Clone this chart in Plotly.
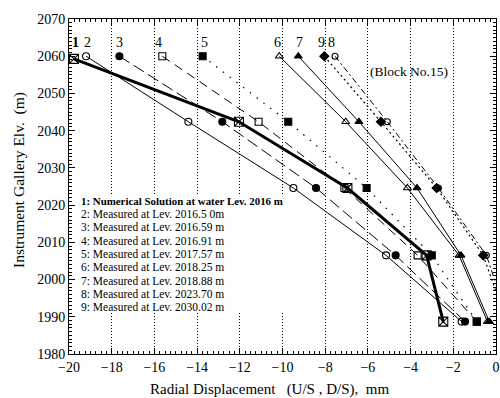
import plotly.graph_objects as go

# ---- data ----
elev = [2060.0, 2042.4, 2024.6, 2006.5, 1988.7]
elev_num = [2059.3, 2042.4, 2024.6, 2006.5, 1988.7]

s1_numerical = [-19.77, -12.04, -6.96, -3.25, -2.47]
s2_2016_50 = [-19.20, -14.41, -9.49, -5.15, -1.61]
s3_2016_59 = [-17.64, -12.82, -8.43, -4.70, -1.45]
s4_2016_91 = [-15.63, -11.12, -7.10, -3.67, -0.90]
s5_2017_57 = [-13.74, -9.73, -6.06, -3.01, -0.90]
s6_2018_25 = [-10.15, -7.04, -4.15, -1.73, -0.40]
s7_2018_88 = [-9.26, -6.42, -3.70, -1.64, -0.31]
s8_2023_70 = [-7.54, -5.09, -2.70, -0.45, 0.60]
s9_2030_02 = [-8.04, -5.39, -2.78, -0.60, 0.50]

legend_lines = [
    "<b>1: Numerical Solution at water Lev. 2016 m</b>",
    "2: Measured at Lev. 2016.5 0m",
    "3: Measured at Lev. 2016.59 m",
    "4: Measured at Lev. 2016.91 m",
    "5: Measured at Lev. 2017.57 m",
    "6: Measured at Lev. 2018.25 m",
    "7: Measured at Lev. 2018.88 m",
    "8: Measured at Lev. 2023.70 m",
    "9: Measured at Lev. 2030.02 m",
]

X_RANGE = [-20, 0]
Y_RANGE = [1980, 2070]
X_TITLE = "Radial Displacement\u00a0\u00a0\u00a0(U/S , D/S),\u00a0\u00a0mm"
Y_TITLE = "Instrument Gallery Elv.\u00a0\u00a0(m)"

FONT = "Liberation Serif, Times New Roman, serif"

series = [
    # (label, x, y, dash, width, marker symbol, marker size, label xshift)
    ("4", s4_2016_91, elev, "9px,6px", 1, "square-open", 7, -4),
    ("5", s5_2017_57, elev, "1.5px,7px", 1.2, "square", 7, 2),
    ("2", s2_2016_50, elev, "solid", 1, "circle-open", 7, 1),
    ("3", s3_2016_59, elev, "12px,5px", 1, "circle", 7, 0),
    ("6", s6_2018_25, elev, "solid", 1, "triangle-up-open", 7, -2),
    ("7", s7_2018_88, elev, "solid", 1, "triangle-up", 7, 1),
    ("8", s8_2023_70, elev, "6px,3px,2px,3px", 1, "circle-open", 6, -4),
    ("9", s9_2030_02, elev, "2px,3px", 1.2, "diamond", 7, -3),
    ("1", s1_numerical, elev_num, "solid", 3, "square-x-open", 9, 2),
]

fig = go.Figure()
for name, xs, ys, dash, w, sym, ms, xs_shift in series:
    fig.add_trace(go.Scatter(
        x=xs, y=ys, mode="lines+markers",
        line=dict(color="black", width=w, dash=dash),
        marker=dict(symbol=sym, size=ms, color="black",
                    line=dict(color="black", width=1.1)),
        showlegend=False, cliponaxis=True, hoverinfo="skip",
    ))
    txt = f"<b>{name}</b>" if name == "1" else name
    fig.add_annotation(x=xs[0], y=2063.8, text=txt, showarrow=False,
                       xshift=xs_shift, font=dict(family=FONT, size=14, color="black"))

# invisible trace on the mirrored (top/right) axes so their ticks are drawn
fig.add_trace(go.Scatter(x=X_RANGE, y=Y_RANGE, xaxis="x2", yaxis="y2",
                         mode="markers", marker=dict(opacity=0),
                         showlegend=False, hoverinfo="skip"))

# white box behind the text legend (hides grid)
fig.add_shape(type="rect", x0=-19.6, x1=-9.7, y0=1991.0, y1=2022.9,
              fillcolor="white", line=dict(width=0), layer="between")

for i, t in enumerate(legend_lines):
    fig.add_annotation(x=-19.52, y=2021.15 - 3.58 * i, text=t, showarrow=False,
                       xanchor="left", yanchor="middle",
                       font=dict(family=FONT, size=(10.9 if i == 0 else 11.5),
                                 color="black"))

fig.add_annotation(x=-4.06, y=2055.9, text="(Block No.15)", showarrow=False,
                   font=dict(family=FONT, size=13.5, color="black"))

# axis titles
fig.add_annotation(xref="paper", yref="paper", x=(269 - 69) / 427, y=-(389 - 354) / 335,
                   text=X_TITLE, showarrow=False, xanchor="center", yanchor="middle",
                   font=dict(family=FONT, size=15, color="black"))
fig.add_annotation(xref="paper", yref="paper", x=-(69 - 19) / 427, y=(354 - 180) / 335,
                   text=Y_TITLE, showarrow=False, xanchor="center", yanchor="middle",
                   textangle=-90, font=dict(family=FONT, size=15.5, color="black"))

tick_common = dict(showline=True, linecolor="black", linewidth=1,
                   ticks="inside", ticklen=6, tickcolor="black",
                   zeroline=False, automargin=False)

fig.update_layout(
    width=500, height=398,
    margin=dict(l=69, r=4, t=19, b=44, autoexpand=False),
    paper_bgcolor="white", plot_bgcolor="white",
    font=dict(family=FONT, size=14, color="black"),
    xaxis=dict(
        range=X_RANGE, dtick=2, tick0=0, mirror=True,
        minor=dict(dtick=0.25, ticks="inside", ticklen=3, tickcolor="black"),
        showgrid=True, gridcolor="black", griddash="1px,2px", gridwidth=1,
        tickfont=dict(family=FONT, size=14),
        **tick_common,
    ),
    yaxis=dict(
        range=Y_RANGE, dtick=10, mirror=True,
        minor=dict(dtick=1, ticks="inside", ticklen=3, tickcolor="black"),
        showgrid=False,
        tickfont=dict(family=FONT, size=14),
        **tick_common,
    ),
    xaxis2=dict(
        range=X_RANGE, dtick=2, tick0=0, overlaying="x", side="top",
        minor=dict(dtick=0.25, ticks="inside", ticklen=3, tickcolor="black"),
        showticklabels=False, showgrid=False, **tick_common,
    ),
    yaxis2=dict(
        range=Y_RANGE, dtick=10, overlaying="y", side="right",
        minor=dict(dtick=1, ticks="inside", ticklen=3, tickcolor="black"),
        showticklabels=False, showgrid=False, **tick_common,
    ),
)

fig.write_html("out.html", config={"displayModeBar": False, "staticPlot": True},
               post_script="document.body.style.margin='0';")
